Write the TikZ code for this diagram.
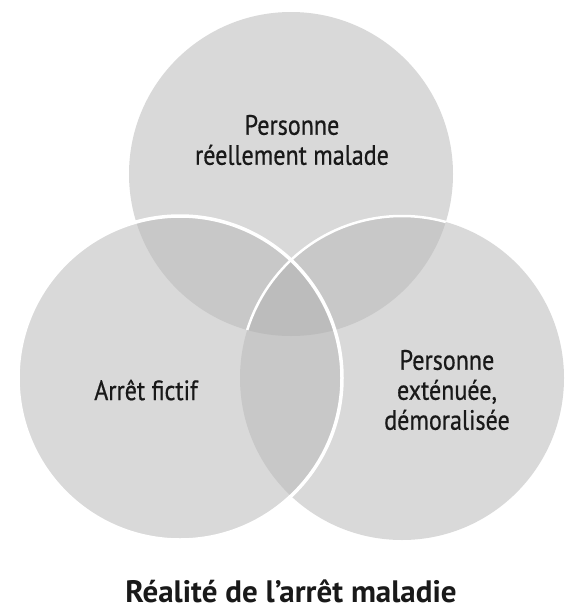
\documentclass[tikz,border=0pt]{standalone}
\usepackage{fontspec}
\setmainfont{PT Sans}
\newfontfamily\lblfont[FakeStretch=0.86,FakeBold=0.6]{PT Sans}
\definecolor{vennone}{HTML}{D9D9D9}
\definecolor{venntwo}{HTML}{C8C8C8}
\definecolor{vennthree}{HTML}{BCBCBC}
\usetikzlibrary{positioning}

\begin{document}
\begin{tikzpicture}[x=1pt,y=-1pt,
  lbl/.style={font=\lblfont\fontsize{28}{30}\selectfont, align=center, text=black!90},
  edge/.style={white, line width=3.5pt}]
\useasboundingbox (0,0) rectangle (565,613);
% the three sets
\coordinate (ctop) at (291,174);
\coordinate (cleft) at (180,378);
\coordinate (cright) at (402,378);
\def\rad{162}
\fill[vennone] (ctop) circle (\rad);
\fill[vennone] (cleft) circle (\rad);
\fill[vennone] (cright) circle (\rad);
% pairwise overlaps
\begin{scope}
\clip (ctop) circle (\rad);
\fill[venntwo] (cleft) circle (\rad);
\fill[venntwo] (cright) circle (\rad);
\end{scope}
\begin{scope}
\clip (cleft) circle (\rad);
\fill[venntwo] (cright) circle (\rad);
\end{scope}
% middle part
\begin{scope}
\clip (ctop) circle (\rad);
\clip (cleft) circle (\rad);
\fill[vennthree] (cright) circle (\rad);
\end{scope}
% white rims
\begin{scope}
\clip (ctop) circle (\rad);
\draw[edge, line width=2.5pt] (cright) circle (\rad);
\end{scope}
\draw[edge] (cleft) circle (\rad);
% labels
\node[lbl] (ill) at (292,140) {Personne\\réellement malade};
\node[lbl] (fake) at (146,390) {Arrêt fictif};
\node[lbl] (tired) at (447,390) {Personne\\exténuée,\\démoralisée};
\node[font=\bfseries\fontsize{31}{34}\selectfont, text=black!90] (title) at (291,591) {Réalité de l’arrêt maladie};
\end{tikzpicture}
\end{document}
